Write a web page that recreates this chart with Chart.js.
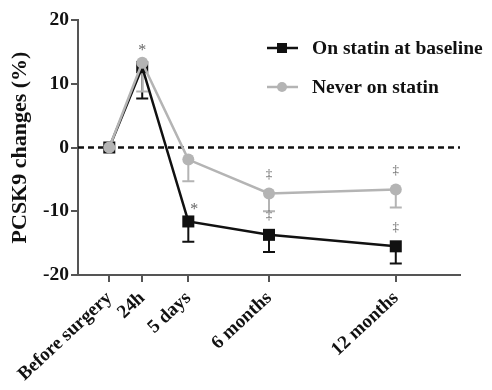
<!DOCTYPE html>
<html>
<head>
<meta charset="utf-8">
<script src="https://cdn.jsdelivr.net/npm/chart.js@4.4.1/dist/chart.umd.min.js"></script>
<style>
  html, body { margin: 0; padding: 0; background: #fff; }
  canvas { display: block; }
</style>
</head>
<body>
<canvas id="chart" width="492" height="390"></canvas>
<script>
const categories = ['Before surgery', '24h', '5 days', '6 months', '12 months'];
const timePos = [0.95, 1.95, 3.35, 5.8, 9.65];   // uneven spacing of the time points
const onStatin = [0, 12.6, -11.6, -13.7, -15.5];
const onStatinErr = [0, 4.9, 3.2, 2.7, 2.7];
const neverStatin = [0, 13.3, -1.9, -7.2, -6.6];
const neverStatinErr = [0, 4.5, 3.4, 2.8, 2.8];
const yTicks = [-20, -10, 0, 10, 20];
const seriesNames = ['On statin at baseline', 'Never on statin'];
// significance marks: which series / time point, and the symbol
const marks = [
    { series: 1, index: 1, text: '*' },
    { series: 0, index: 2, text: '*' },
    { series: 1, index: 3, text: '\u2021' },
    { series: 1, index: 4, text: '\u2021' },
    { series: 0, index: 3, text: '\u2021' },
    { series: 0, index: 4, text: '\u2021' }
];

const BLACK = '#111111';
const GREY = '#b4b4b4';
const AXIS = '#555555';
const FONT = '"Liberation Serif", "Times New Roman", serif';

const errs = [onStatinErr, neverStatinErr];

function toPoints(values) {
    return values.map((v, i) => ({ x: timePos[i], y: v }));
}

const extras = {
    id: 'extras',
    beforeDatasetsDraw(chart) {
        const { ctx, chartArea, scales } = chart;
        const y0 = scales.y.getPixelForValue(0);
        ctx.save();
        // dashed zero line
        ctx.strokeStyle = BLACK;
        ctx.lineWidth = 2.5;
        ctx.setLineDash([6, 4]);
        ctx.beginPath();
        ctx.moveTo(chartArea.left, y0);
        ctx.lineTo(chartArea.right, y0);
        ctx.stroke();
        ctx.setLineDash([]);
        // one-sided (downward) error bars
        chart.data.datasets.forEach((ds, d) => {
            ctx.strokeStyle = ds.borderColor;
            ctx.lineWidth = 2;
            ds.data.forEach((p, i) => {
                const e = errs[d][i];
                if (!e) return;
                const x = scales.x.getPixelForValue(p.x);
                const yt = scales.y.getPixelForValue(p.y);
                const yb = scales.y.getPixelForValue(p.y - e);
                ctx.beginPath();
                ctx.moveTo(x, yt);
                ctx.lineTo(x, yb);
                ctx.moveTo(x - 6, yb);
                ctx.lineTo(x + 6, yb);
                ctx.stroke();
            });
        });
        ctx.restore();
    },
    afterDatasetsDraw(chart) {
        const { ctx, scales } = chart;
        ctx.save();
        ctx.textAlign = 'center';
        ctx.textBaseline = 'middle';
        ctx.fillStyle = '#666666';
        marks.forEach(m => {
            const p = chart.data.datasets[m.series].data[m.index];
            const x = scales.x.getPixelForValue(p.x);
            const y = scales.y.getPixelForValue(p.y);
            if (m.text === '*') {
                ctx.font = '16px ' + FONT;
                const dx = m.series === 0 ? 6 : 0;
                ctx.fillText('*', x + dx, y - 12);
            } else {
                ctx.font = '13px ' + FONT;
                ctx.fillText(m.text, x, y - 19);
            }
        });
        // legend
        const items = [
            { color: BLACK, style: 'rect', y: 48 },
            { color: GREY, style: 'circle', y: 87 }
        ];
        ctx.textAlign = 'left';
        ctx.fillStyle = BLACK;
        ctx.font = 'bold 19.5px ' + FONT;
        items.forEach((it, i) => {
            ctx.strokeStyle = it.color;
            ctx.lineWidth = 2.5;
            ctx.beginPath();
            ctx.moveTo(267, it.y);
            ctx.lineTo(298, it.y);
            ctx.stroke();
            ctx.fillStyle = it.color;
            if (it.style === 'rect') {
                ctx.fillRect(277, it.y - 5, 10, 10);
            } else {
                ctx.beginPath();
                ctx.arc(282, it.y, 5, 0, Math.PI * 2);
                ctx.fill();
            }
            ctx.fillStyle = BLACK;
            ctx.fillText(seriesNames[i], 312, it.y + 1);
        });
        ctx.restore();
    }
};

new Chart(document.getElementById('chart'), {
    type: 'line',
    data: {
        datasets: [
            {
                label: seriesNames[0],
                data: toPoints(onStatin),
                borderColor: BLACK,
                backgroundColor: BLACK,
                borderWidth: 2.5,
                pointStyle: 'rect',
                pointRadius: 8.5,
                pointBorderWidth: 0,
                order: 1
            },
            {
                label: seriesNames[1],
                data: toPoints(neverStatin),
                borderColor: GREY,
                backgroundColor: GREY,
                borderWidth: 2.5,
                pointStyle: 'circle',
                pointRadius: 6,
                pointBorderWidth: 0,
                order: 0
            }
        ]
    },
    options: {
        responsive: false,
        animation: false,
        devicePixelRatio: 1,
        layout: { padding: { top: 20, right: 32, left: 0, bottom: 0 } },
        plugins: { legend: { display: false }, tooltip: { enabled: false } },
        scales: {
            x: {
                type: 'linear',
                min: 0,
                max: 11.6,
                afterBuildTicks(scale) {
                    scale.ticks = timePos.map(v => ({ value: v }));
                },
                afterFit(scale) { scale.height = 115; },
                ticks: {
                    autoSkip: false,
                    minRotation: 43,
                    maxRotation: 43,
                    padding: 5,
                    color: BLACK,
                    font: { family: FONT, size: 19, weight: 'bold' },
                    callback: (v, i) => categories[i]
                },
                grid: { drawOnChartArea: false, drawTicks: true, tickLength: 7, color: AXIS, lineWidth: 2 },
                border: { color: AXIS, width: 2 }
            },
            y: {
                min: -20,
                max: 20,
                afterBuildTicks(scale) {
                    scale.ticks = yTicks.map(v => ({ value: v }));
                },
                afterFit(scale) { scale.width = 78; },
                ticks: {
                    padding: 2,
                    color: BLACK,
                    font: { family: FONT, size: 19.5, weight: 'bold' }
                },
                title: {
                    display: true,
                    text: 'PCSK9 changes (%)',
                    color: BLACK,
                    padding: { top: 7, bottom: 0 },
                    font: { family: FONT, size: 22, weight: 'bold' }
                },
                grid: { drawOnChartArea: false, drawTicks: true, tickLength: 7, color: AXIS, lineWidth: 2 },
                border: { color: AXIS, width: 2 }
            }
        }
    },
    plugins: [extras]
});
</script>
</body>
</html>
